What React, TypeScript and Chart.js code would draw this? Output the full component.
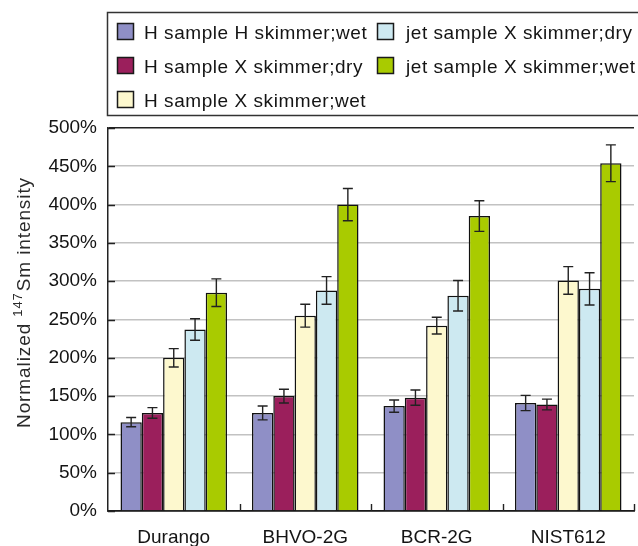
import React, { useEffect, useRef } from "react";
import { Chart, registerables } from "chart.js";

Chart.register(...registerables);

const categories = ["Durango", "BHVO-2G", "BCR-2G", "NIST612"];
const seriesLabels = [
  "H sample H skimmer;wet",
  "H sample X skimmer;dry",
  "H sample X skimmer;wet",
  "jet sample X skimmer;dry",
  "jet sample X skimmer;wet",
];
const seriesColors = ["#8F8FC6", "#9B1F5C", "#FDF8CE", "#CDE9F1", "#A9CB00"];

const hhWet = [116, 128, 137, 141];
const hhWetErr = [6, 9, 8, 10];
const hxDry = [128, 150, 148, 139];
const hxDryErr = [7, 9, 10, 7];
const hxWet = [200, 255, 242, 301];
const hxWetErr = [12, 15, 11, 18];
const jetDry = [237, 288, 281, 290];
const jetDryErr = [14, 18, 20, 21];
const jetWet = [285, 400, 385, 454];
const jetWetErr = [18, 21, 20, 24];

const seriesValues = [hhWet, hxDry, hxWet, jetDry, jetWet];
const seriesErrors = [hhWetErr, hxDryErr, hxWetErr, jetDryErr, jetWetErr];

const yMin = 0;
const yMax = 500;
const yStep = 50;

const FONT = "'Liberation Sans', Arial, Helvetica, sans-serif";
const TEXT = "#141414";

const errorBarPlugin = {
  id: "errorBars",
  afterDatasetsDraw(chart: any) {
    const ctx = chart.ctx;
    const y = chart.scales.y;
    chart.data.datasets.forEach((ds: any, i: number) => {
      const meta = chart.getDatasetMeta(i);
      const errs = seriesErrors[i];
      meta.data.forEach((bar: any, j: number) => {
        const v = ds.data[j];
        const e = errs[j];
        const top = y.getPixelForValue(v + e);
        const bot = y.getPixelForValue(v - e);
        ctx.save();
        ctx.strokeStyle = "#222";
        ctx.lineWidth = 1.4;
        ctx.beginPath();
        ctx.moveTo(bar.x, top);
        ctx.lineTo(bar.x, bot);
        ctx.moveTo(bar.x - 5, top);
        ctx.lineTo(bar.x + 5, top);
        ctx.moveTo(bar.x - 5, bot);
        ctx.lineTo(bar.x + 5, bot);
        ctx.stroke();
        ctx.restore();
      });
    });
  },
};

const axisDecorPlugin = {
  id: "axisDecor",
  afterDatasetsDraw(chart: any) {
    const ctx = chart.ctx;
    const { left, right, bottom } = chart.chartArea;
    const y = chart.scales.y;
    ctx.save();
    ctx.strokeStyle = "#222";
    ctx.lineWidth = 1.4;
    ctx.beginPath();
    y.ticks.forEach((t: any) => {
      const py = Math.round(y.getPixelForValue(t.value)) + 0.5;
      ctx.moveTo(left, py);
      ctx.lineTo(left + 7, py);
    });
    const n = categories.length;
    const w = (right - left) / n;
    for (let i = 1; i <= n; i++) {
      const px = Math.round(left + i * w) + 0.5;
      ctx.moveTo(px, bottom);
      ctx.lineTo(px, bottom - 7);
    }
    ctx.stroke();
    ctx.restore();
  },
};

const titleLegendPlugin = {
  id: "titleLegend",
  afterDraw(chart: any) {
    const ctx = chart.ctx;
    // y axis title with superscript
    ctx.save();
    ctx.fillStyle = "#2a2a2a";
    ctx.translate(25, 303);
    ctx.rotate(-Math.PI / 2);
    ctx.textBaseline = "middle";
    ctx.textAlign = "left";
    try { (ctx as any).letterSpacing = "0.9px"; } catch (e) {}
    const mainFont = `19px ${FONT}`;
    const supFont = `13px ${FONT}`;
    const p1 = "Normalized ";
    const p2 = "147";
    const p3 = "Sm intensity";
    ctx.font = mainFont;
    const w1 = ctx.measureText(p1).width;
    const w3 = ctx.measureText(p3).width;
    ctx.font = supFont;
    const w2 = ctx.measureText(p2).width;
    let x = -(w1 + w2 + w3) / 2;
    ctx.font = mainFont;
    ctx.fillText(p1, x, 0);
    x += w1;
    ctx.font = supFont;
    ctx.fillText(p2, x, -7);
    x += w2 + 1;
    ctx.font = mainFont;
    ctx.fillText(p3, x, 0);
    ctx.restore();

    // legend box
    ctx.save();
    ctx.fillStyle = "#ffffff";
    ctx.fillRect(107, 12, 540, 104);
    ctx.strokeStyle = "#333";
    ctx.lineWidth = 1.5;
    ctx.strokeRect(107.5, 12.5, 540, 103);
    const cols = [
      { sx: 117, tx: 144 },
      { sx: 377, tx: 406 },
    ];
    const rows = [34, 68, 102];
    ctx.font = `19px ${FONT}`;
    ctx.textBaseline = "middle";
    ctx.textAlign = "left";
    try { (ctx as any).letterSpacing = "0.55px"; } catch (e) {}
    chart.data.datasets.forEach((ds: any, i: number) => {
      const col = cols[Math.floor(i / 3)];
      const ry = rows[i % 3];
      ctx.fillStyle = ds.backgroundColor;
      ctx.fillRect(col.sx, ry - 11, 16, 16);
      ctx.strokeStyle = "#1a1a1a";
      ctx.lineWidth = 1.5;
      ctx.strokeRect(col.sx + 0.5, ry - 10.5, 16, 16);
      ctx.fillStyle = TEXT;
      ctx.fillText(ds.label, col.tx, ry);
    });
    ctx.restore();
  },
};

export default function App() {
  const canvasRef = useRef<HTMLCanvasElement | null>(null);

  useEffect(() => {
    const canvas = canvasRef.current;
    if (!canvas) return;
    const chart = new Chart(canvas, {
      type: "bar",
      data: {
        labels: categories,
        datasets: seriesLabels.map((label, i) => ({
          label,
          data: seriesValues[i],
          backgroundColor: seriesColors[i],
          borderColor: "#111",
          borderWidth: 1.5,
          categoryPercentage: 0.81,
          barPercentage: 1.0,
        })),
      },
      options: {
        animation: false,
        responsive: false,
        devicePixelRatio: 1,
        layout: { padding: { top: 128, right: 4, left: 0, bottom: 0 } },
        plugins: {
          legend: { display: false },
          tooltip: { enabled: false },
          title: { display: false },
        },
        scales: {
          x: {
            grid: { display: false },
            border: { display: true, color: "#1a1a1a", width: 1.8 },
            ticks: {
              color: TEXT,
              font: { family: FONT, size: 19 },
              padding: 7,
              maxRotation: 0,
            },
            afterFit: (scale: any) => {
              scale.height = 35;
            },
          },
          y: {
            min: yMin,
            max: yMax,
            ticks: {
              stepSize: yStep,
              color: TEXT,
              font: { family: FONT, size: 19 },
              padding: 11,
              callback: (v: any) => `${v}%`,
            },
            grid: {
              drawTicks: false,
              lineWidth: 1.6,
              color: (c: any) => (c.tick && c.tick.value === yMax ? "#222" : "#c2c2c2"),
            },
            border: { display: true, color: "#222", width: 1.5 },
            afterFit: (scale: any) => {
              scale.width = 108;
            },
          },
        },
      } as any,
      plugins: [errorBarPlugin, axisDecorPlugin, titleLegendPlugin],
    });
    return () => chart.destroy();
  }, []);

  return (
    <div style={{ position: "absolute", left: 0, top: 0, width: 638, height: 546, background: "#fff" }}>
      <canvas ref={canvasRef} width={638} height={546} style={{ display: "block" }} />
    </div>
  );
}
